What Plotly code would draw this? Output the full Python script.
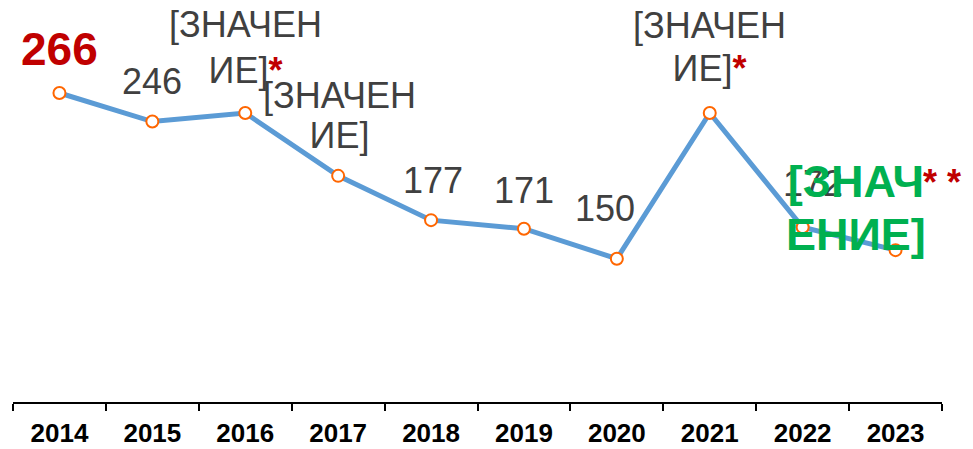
import plotly.graph_objects as go

# ---- data ----
years = ["2014", "2015", "2016", "2017", "2018", "2019", "2020", "2021", "2022", "2023"]
values = [266, 246, 252, 208, 177, 171, 150, 252, 172, 156]
label_lines = [["266"], ["246"], ["[ЗНАЧЕН", "ИЕ]"], ["[ЗНАЧЕН", "ИЕ]"], ["177"],
               ["171"], ["150"], ["[ЗНАЧЕН", "ИЕ]"], ["172"], ["[ЗНАЧ", "ЕНИЕ]"]]
footnote_marks = ["", "", "*", "", "", "", "", "*", "", "* *"]

FONT = "Liberation Sans, Arial, sans-serif"
GRAY = "#404040"
RED = "#C00000"
GREEN = "#00B050"

# label styling: (color, bold, glyph size, line spacing px, xshift, yshift)
label_style = {
    0: (RED, True, 46, None, 0, 44),
    1: (GRAY, False, 36, None, 0, 40),
    2: (GRAY, False, 36, 46.2, 0, 65.4),
    3: (GRAY, False, 36, 39.7, 1.5, 60.8),
    4: (GRAY, False, 36, None, 1.5, 40),
    5: (GRAY, False, 36, None, 0, 38.2),
    6: (GRAY, False, 36, None, -12, 50.4),
    7: (GRAY, False, 36, 43.3, -0.6, 66),
    8: (GRAY, False, 36, None, 10.7, 44),
    9: (GREEN, True, 45, 53, -39.7, 42.5),
}

fig = go.Figure()
fig.add_trace(go.Scatter(
    x=years, y=values, mode="lines+markers",
    line=dict(color="#5B9BD5", width=5),
    marker=dict(symbol="circle", size=12, color="white",
                line=dict(color="#FF6600", width=2)),
    hoverinfo="skip", showlegend=False,
))

annotations = []
for i in range(len(years)):
    color, bold, gsize, spacing, xs, ys = label_style[i]
    lines = list(label_lines[i])
    mark = footnote_marks[i]
    if mark == "*":
        lines[-1] = lines[-1] + f"<span style='color:{RED}'><b>*</b></span>"
    fsize = gsize if spacing is None else spacing / 1.3
    if spacing is not None:
        lines = [f"<span style='font-size:{gsize}px'>{ln}</span>" for ln in lines]
    text = "<br>".join(lines)
    if bold:
        text = f"<b>{text}</b>"
    annotations.append(dict(
        x=i, y=values[i], xref="x", yref="y", text=text,
        showarrow=False, xanchor="center", yanchor="middle", align="center",
        xshift=xs, yshift=ys,
        font=dict(family=FONT, size=fsize, color=color),
    ))
    if mark == "* *":
        annotations.append(dict(
            x=i, y=values[i], xref="x", yref="y", text=f"<b>{mark}</b>",
            showarrow=False, xanchor="center", yanchor="middle",
            xshift=46.6, yshift=67.8,
            font=dict(family=FONT, size=36, color=RED),
        ))

# the page body has an 8px default margin, so the figure is sized to fit inside it
fig.update_layout(
    width=965, height=441,
    margin=dict(l=5, r=31, t=37, b=47),
    paper_bgcolor="white", plot_bgcolor="white",
    annotations=annotations,
    xaxis=dict(
        type="category", range=[-0.5, 9.5], automargin=False,
        showline=True, linecolor="black", linewidth=2,
        ticks="outside", ticklen=7, tickwidth=2, tickcolor="black",
        tickson="boundaries", showgrid=False, zeroline=False,
        ticklabelstandoff=7,
        tickfont=dict(family=FONT, size=26, color="black", weight="bold"),
    ),
    yaxis=dict(range=[49.7, 299.6], visible=False, showgrid=False, zeroline=False,
               automargin=False),
)

fig.write_html("out.html")
